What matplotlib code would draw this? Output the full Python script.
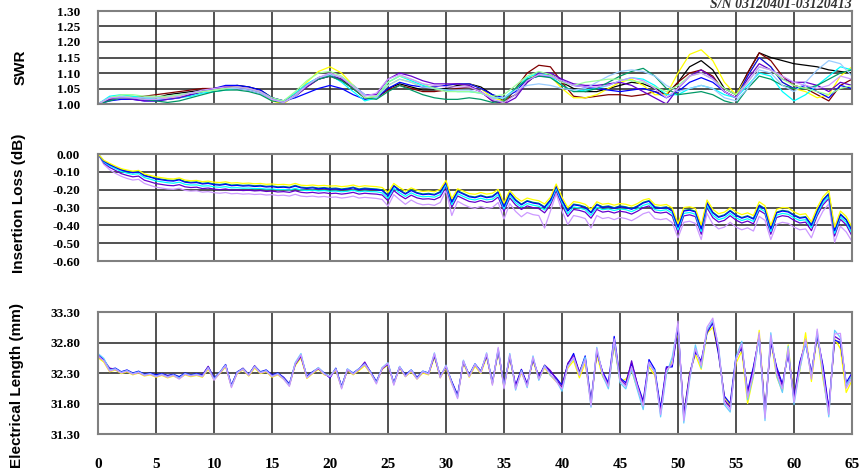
import numpy as np
import matplotlib
matplotlib.use("Agg")
import matplotlib.pyplot as plt
from matplotlib.ticker import FuncFormatter

# frequency grids (GHz)
f_swr = np.arange(0, 66, 1.0)
f_half = np.arange(0, 65.5, 0.5)

# ---------------- SWR, one list per unit ----------------
swr_black = [1.00, 1.02, 1.02, 1.02, 1.02, 1.02, 1.03, 1.035, 1.04, 1.045, 1.05,
             1.055, 1.06, 1.055, 1.045, 1.02, 1.01, 1.03, 1.06, 1.085, 1.095, 1.08,
             1.05, 1.02, 1.02, 1.05, 1.065, 1.055, 1.045, 1.045, 1.05, 1.06, 1.065,
             1.055, 1.03, 1.01, 1.03, 1.07, 1.10, 1.095, 1.07, 1.05, 1.04, 1.04,
             1.05, 1.06, 1.07, 1.065, 1.05, 1.03, 1.07, 1.12, 1.14, 1.11, 1.05,
             1.03, 1.10, 1.165, 1.15, 1.14, 1.13, 1.125, 1.12, 1.11, 1.105, 1.10]
swr_maroon = [1.00, 1.015, 1.02, 1.02, 1.025, 1.03, 1.035, 1.04, 1.045, 1.05, 1.05,
              1.055, 1.055, 1.05, 1.04, 1.015, 1.005, 1.025, 1.055, 1.08, 1.09, 1.075,
              1.05, 1.02, 1.02, 1.045, 1.06, 1.05, 1.04, 1.04, 1.045, 1.05, 1.055,
              1.04, 1.01, 1.00, 1.05, 1.10, 1.125, 1.12, 1.07, 1.025, 1.02, 1.025,
              1.03, 1.03, 1.025, 1.03, 1.04, 1.03, 1.07, 1.10, 1.11, 1.09, 1.04,
              1.02, 1.10, 1.165, 1.14, 1.09, 1.06, 1.05, 1.03, 1.01, 1.06, 1.08]
swr_yellow = [1.00, 1.02, 1.025, 1.025, 1.02, 1.02, 1.02, 1.025, 1.03, 1.04, 1.045,
              1.05, 1.05, 1.045, 1.035, 1.01, 1.00, 1.03, 1.07, 1.105, 1.12, 1.10,
              1.06, 1.02, 1.02, 1.06, 1.08, 1.07, 1.055, 1.055, 1.06, 1.065, 1.065,
              1.05, 1.02, 1.01, 1.05, 1.08, 1.10, 1.09, 1.05, 1.02, 1.02, 1.03,
              1.05, 1.07, 1.08, 1.06, 1.03, 1.03, 1.10, 1.16, 1.175, 1.14, 1.07,
              1.03, 1.09, 1.15, 1.12, 1.07, 1.05, 1.04, 1.02, 1.03, 1.09, 1.12]
swr_blue = [1.00, 1.01, 1.015, 1.015, 1.01, 1.01, 1.015, 1.02, 1.03, 1.04, 1.05,
            1.06, 1.06, 1.055, 1.045, 1.02, 1.01, 1.02, 1.035, 1.05, 1.06, 1.05,
            1.03, 1.015, 1.02, 1.05, 1.07, 1.06, 1.055, 1.055, 1.06, 1.065, 1.065,
            1.05, 1.03, 1.02, 1.04, 1.08, 1.09, 1.09, 1.075, 1.06, 1.055, 1.05,
            1.045, 1.04, 1.045, 1.05, 1.04, 1.02, 1.04, 1.07, 1.085, 1.07, 1.04,
            1.02, 1.09, 1.15, 1.12, 1.07, 1.05, 1.06, 1.04, 1.02, 1.06, 1.05]
swr_cyan = [1.00, 1.025, 1.03, 1.025, 1.02, 1.015, 1.015, 1.02, 1.025, 1.035, 1.04,
            1.045, 1.05, 1.045, 1.035, 1.015, 1.01, 1.035, 1.065, 1.085, 1.095, 1.07,
            1.04, 1.01, 1.02, 1.07, 1.09, 1.075, 1.06, 1.05, 1.045, 1.04, 1.04,
            1.035, 1.02, 1.02, 1.05, 1.085, 1.10, 1.09, 1.06, 1.04, 1.045, 1.05,
            1.06, 1.075, 1.085, 1.08, 1.06, 1.03, 1.03, 1.05, 1.06, 1.05, 1.03,
            1.02, 1.06, 1.10, 1.09, 1.04, 1.01, 1.03, 1.06, 1.09, 1.12, 1.11]
swr_purple = [1.00, 1.015, 1.02, 1.015, 1.01, 1.01, 1.015, 1.02, 1.03, 1.04, 1.05,
              1.055, 1.05, 1.045, 1.035, 1.015, 1.005, 1.025, 1.055, 1.08, 1.09, 1.08,
              1.06, 1.03, 1.03, 1.08, 1.10, 1.09, 1.075, 1.065, 1.065, 1.065, 1.06,
              1.04, 1.01, 1.00, 1.02, 1.07, 1.10, 1.10, 1.08, 1.065, 1.06, 1.06,
              1.065, 1.07, 1.06, 1.04, 1.02, 1.00, 1.05, 1.09, 1.11, 1.085, 1.04,
              1.02, 1.08, 1.13, 1.11, 1.08, 1.07, 1.07, 1.06, 1.04, 1.07, 1.06]
swr_teal = [1.00, 1.01, 1.02, 1.02, 1.015, 1.01, 1.005, 1.01, 1.02, 1.03, 1.04,
            1.045, 1.045, 1.04, 1.03, 1.01, 1.005, 1.03, 1.06, 1.08, 1.09, 1.075,
            1.05, 1.02, 1.015, 1.04, 1.06, 1.045, 1.03, 1.02, 1.015, 1.015, 1.02,
            1.015, 1.005, 1.01, 1.05, 1.08, 1.09, 1.085, 1.06, 1.04, 1.04, 1.05,
            1.07, 1.09, 1.105, 1.115, 1.09, 1.05, 1.03, 1.035, 1.04, 1.03, 1.01,
            1.00, 1.05, 1.09, 1.08, 1.06, 1.05, 1.05, 1.06, 1.08, 1.10, 1.11]
swr_lblue = [1.00, 1.02, 1.025, 1.02, 1.02, 1.02, 1.025, 1.03, 1.035, 1.04, 1.045,
             1.05, 1.05, 1.045, 1.035, 1.015, 1.005, 1.025, 1.06, 1.085, 1.095, 1.085,
             1.06, 1.03, 1.02, 1.06, 1.08, 1.07, 1.055, 1.05, 1.045, 1.045, 1.045,
             1.035, 1.02, 1.02, 1.045, 1.06, 1.065, 1.06, 1.05, 1.045, 1.05, 1.07,
             1.09, 1.105, 1.11, 1.105, 1.09, 1.06, 1.04, 1.05, 1.06, 1.05, 1.02,
             1.01, 1.05, 1.11, 1.10, 1.06, 1.04, 1.07, 1.11, 1.14, 1.13, 1.09]
swr_lgreen = [1.00, 1.02, 1.03, 1.03, 1.025, 1.025, 1.025, 1.03, 1.035, 1.04, 1.045,
              1.05, 1.055, 1.05, 1.04, 1.02, 1.01, 1.04, 1.075, 1.10, 1.105, 1.09,
              1.06, 1.02, 1.025, 1.07, 1.09, 1.08, 1.065, 1.05, 1.04, 1.04, 1.04,
              1.035, 1.025, 1.03, 1.06, 1.09, 1.105, 1.095, 1.07, 1.06, 1.07, 1.075,
              1.08, 1.08, 1.075, 1.07, 1.055, 1.04, 1.06, 1.09, 1.10, 1.08, 1.05,
              1.03, 1.07, 1.12, 1.11, 1.08, 1.06, 1.05, 1.04, 1.03, 1.05, 1.06]
swr_lav = [1.00, 1.02, 1.02, 1.02, 1.015, 1.015, 1.02, 1.025, 1.035, 1.045, 1.05,
           1.055, 1.055, 1.05, 1.04, 1.015, 1.005, 1.03, 1.06, 1.085, 1.10, 1.085,
           1.055, 1.025, 1.035, 1.08, 1.095, 1.08, 1.065, 1.06, 1.055, 1.055, 1.055,
           1.04, 1.015, 1.005, 1.03, 1.075, 1.095, 1.09, 1.075, 1.06, 1.055, 1.055,
           1.06, 1.075, 1.085, 1.075, 1.05, 1.02, 1.05, 1.09, 1.10, 1.08, 1.04,
           1.02, 1.07, 1.12, 1.11, 1.09, 1.07, 1.06, 1.05, 1.06, 1.09, 1.08]

# ---------------- Insertion loss (dB), 0.5 GHz steps ----------------
il_yellow = [0.000, -0.035, -0.052, -0.068, -0.082, -0.090, -0.096, -0.092, -0.112, -0.120,
             -0.128, -0.133, -0.138, -0.140, -0.134, -0.146, -0.150, -0.148, -0.155, -0.152,
             -0.158, -0.160, -0.156, -0.163, -0.161, -0.165, -0.163, -0.167, -0.165, -0.170,
             -0.168, -0.172, -0.170, -0.174, -0.165, -0.175, -0.177, -0.174, -0.178, -0.176,
             -0.180, -0.178, -0.183, -0.180, -0.174, -0.183, -0.178, -0.181, -0.183, -0.188,
             -0.215, -0.165, -0.188, -0.208, -0.190, -0.203, -0.210, -0.207, -0.212, -0.198,
             -0.148, -0.250, -0.195, -0.208, -0.222, -0.226, -0.216, -0.225, -0.220, -0.198,
             -0.275, -0.205, -0.242, -0.265, -0.247, -0.256, -0.262, -0.280, -0.243, -0.168,
             -0.243, -0.300, -0.267, -0.272, -0.282, -0.310, -0.268, -0.282, -0.277, -0.287,
             -0.278, -0.282, -0.292, -0.278, -0.258, -0.250, -0.283, -0.288, -0.283, -0.302,
             -0.390, -0.300, -0.296, -0.305, -0.398, -0.258, -0.310, -0.335, -0.326, -0.302,
             -0.325, -0.340, -0.330, -0.345, -0.268, -0.290, -0.400, -0.310, -0.300, -0.302,
             -0.325, -0.340, -0.335, -0.380, -0.300, -0.240, -0.205, -0.410, -0.320, -0.350,
             -0.410]
il_teal = [0.000, -0.038, -0.057, -0.072, -0.087, -0.095, -0.102, -0.097, -0.118, -0.127,
           -0.136, -0.141, -0.146, -0.148, -0.141, -0.154, -0.158, -0.156, -0.164, -0.161,
           -0.168, -0.171, -0.166, -0.174, -0.172, -0.176, -0.174, -0.178, -0.176, -0.181,
           -0.179, -0.184, -0.182, -0.186, -0.176, -0.186, -0.189, -0.186, -0.191, -0.188,
           -0.193, -0.191, -0.196, -0.192, -0.186, -0.196, -0.191, -0.194, -0.196, -0.201,
           -0.230, -0.176, -0.201, -0.221, -0.201, -0.216, -0.224, -0.221, -0.226, -0.211,
           -0.156, -0.266, -0.206, -0.221, -0.236, -0.241, -0.231, -0.241, -0.236, -0.211,
           -0.290, -0.216, -0.256, -0.281, -0.261, -0.271, -0.276, -0.296, -0.256, -0.176,
           -0.256, -0.316, -0.281, -0.286, -0.296, -0.326, -0.281, -0.296, -0.291, -0.301,
           -0.291, -0.296, -0.306, -0.291, -0.271, -0.261, -0.296, -0.301, -0.296, -0.316,
           -0.405, -0.316, -0.311, -0.321, -0.415, -0.271, -0.326, -0.351, -0.341, -0.316,
           -0.341, -0.356, -0.346, -0.361, -0.286, -0.306, -0.415, -0.326, -0.316, -0.321,
           -0.341, -0.356, -0.351, -0.395, -0.316, -0.256, -0.221, -0.425, -0.336, -0.366,
           -0.425]
il_blue = [0.000, -0.040, -0.060, -0.075, -0.090, -0.098, -0.105, -0.100, -0.122, -0.130,
           -0.140, -0.145, -0.150, -0.152, -0.145, -0.158, -0.162, -0.160, -0.168, -0.165,
           -0.172, -0.175, -0.170, -0.178, -0.176, -0.180, -0.178, -0.182, -0.180, -0.185,
           -0.183, -0.188, -0.186, -0.190, -0.180, -0.190, -0.193, -0.190, -0.195, -0.192,
           -0.197, -0.195, -0.200, -0.196, -0.190, -0.200, -0.195, -0.198, -0.200, -0.205,
           -0.235, -0.180, -0.205, -0.225, -0.205, -0.220, -0.228, -0.225, -0.230, -0.215,
           -0.160, -0.270, -0.210, -0.225, -0.240, -0.245, -0.235, -0.245, -0.240, -0.215,
           -0.295, -0.220, -0.260, -0.285, -0.265, -0.275, -0.280, -0.300, -0.260, -0.180,
           -0.260, -0.320, -0.285, -0.290, -0.300, -0.330, -0.285, -0.300, -0.295, -0.305,
           -0.295, -0.300, -0.310, -0.295, -0.275, -0.265, -0.300, -0.305, -0.300, -0.320,
           -0.410, -0.320, -0.315, -0.325, -0.420, -0.275, -0.330, -0.355, -0.345, -0.320,
           -0.345, -0.360, -0.350, -0.365, -0.290, -0.310, -0.420, -0.330, -0.320, -0.325,
           -0.345, -0.360, -0.355, -0.400, -0.320, -0.260, -0.225, -0.430, -0.340, -0.370,
           -0.430]
il_cyan = [0.000, -0.045, -0.066, -0.082, -0.098, -0.107, -0.114, -0.110, -0.132, -0.141,
           -0.151, -0.156, -0.161, -0.164, -0.158, -0.170, -0.174, -0.173, -0.180, -0.178,
           -0.184, -0.187, -0.183, -0.190, -0.189, -0.192, -0.191, -0.194, -0.193, -0.197,
           -0.196, -0.200, -0.199, -0.202, -0.193, -0.202, -0.205, -0.203, -0.207, -0.205,
           -0.209, -0.208, -0.212, -0.209, -0.203, -0.212, -0.208, -0.211, -0.212, -0.218,
           -0.248, -0.192, -0.218, -0.238, -0.218, -0.233, -0.240, -0.238, -0.242, -0.228,
           -0.172, -0.284, -0.222, -0.238, -0.252, -0.258, -0.248, -0.257, -0.253, -0.228,
           -0.308, -0.232, -0.273, -0.297, -0.278, -0.287, -0.293, -0.314, -0.272, -0.192,
           -0.273, -0.335, -0.297, -0.303, -0.312, -0.344, -0.298, -0.312, -0.308, -0.317,
           -0.308, -0.312, -0.323, -0.308, -0.288, -0.278, -0.312, -0.318, -0.312, -0.333,
           -0.425, -0.333, -0.328, -0.338, -0.435, -0.288, -0.343, -0.368, -0.358, -0.333,
           -0.358, -0.373, -0.363, -0.378, -0.303, -0.323, -0.435, -0.343, -0.333, -0.338,
           -0.358, -0.373, -0.368, -0.413, -0.333, -0.273, -0.238, -0.445, -0.353, -0.383,
           -0.445]
il_purple = [0.000, -0.050, -0.075, -0.092, -0.110, -0.120, -0.128, -0.124, -0.147, -0.156,
             -0.166, -0.171, -0.176, -0.178, -0.172, -0.184, -0.188, -0.186, -0.194, -0.191,
             -0.197, -0.200, -0.196, -0.203, -0.201, -0.205, -0.203, -0.207, -0.205, -0.210,
             -0.208, -0.213, -0.211, -0.215, -0.206, -0.215, -0.218, -0.215, -0.220, -0.217,
             -0.222, -0.220, -0.225, -0.221, -0.215, -0.225, -0.220, -0.223, -0.225, -0.230,
             -0.262, -0.205, -0.231, -0.251, -0.231, -0.246, -0.253, -0.251, -0.256, -0.241,
             -0.185, -0.298, -0.235, -0.251, -0.266, -0.271, -0.261, -0.271, -0.266, -0.241,
             -0.322, -0.246, -0.286, -0.311, -0.291, -0.301, -0.306, -0.330, -0.286, -0.206,
             -0.287, -0.350, -0.311, -0.316, -0.326, -0.360, -0.311, -0.326, -0.321, -0.331,
             -0.321, -0.326, -0.337, -0.321, -0.301, -0.291, -0.326, -0.331, -0.326, -0.347,
             -0.440, -0.347, -0.341, -0.351, -0.450, -0.301, -0.357, -0.382, -0.372, -0.346,
             -0.371, -0.387, -0.376, -0.392, -0.316, -0.336, -0.450, -0.356, -0.346, -0.351,
             -0.372, -0.387, -0.382, -0.430, -0.346, -0.285, -0.250, -0.460, -0.366, -0.397,
             -0.460]
il_lav = [0.000, -0.058, -0.088, -0.108, -0.125, -0.137, -0.146, -0.142, -0.165, -0.176,
          -0.186, -0.191, -0.196, -0.198, -0.192, -0.204, -0.208, -0.206, -0.214, -0.211,
          -0.217, -0.220, -0.216, -0.223, -0.221, -0.225, -0.223, -0.227, -0.225, -0.230,
          -0.228, -0.233, -0.231, -0.236, -0.226, -0.236, -0.239, -0.236, -0.241, -0.238,
          -0.243, -0.241, -0.247, -0.243, -0.236, -0.247, -0.243, -0.246, -0.249, -0.255,
          -0.292, -0.228, -0.256, -0.282, -0.258, -0.276, -0.285, -0.282, -0.288, -0.272,
          -0.205, -0.345, -0.265, -0.283, -0.298, -0.305, -0.294, -0.305, -0.300, -0.272,
          -0.365, -0.278, -0.322, -0.352, -0.328, -0.340, -0.345, -0.415, -0.320, -0.225,
          -0.320, -0.395, -0.345, -0.352, -0.362, -0.415, -0.345, -0.362, -0.356, -0.368,
          -0.356, -0.362, -0.374, -0.356, -0.335, -0.325, -0.362, -0.368, -0.362, -0.385,
          -0.470, -0.383, -0.377, -0.389, -0.480, -0.333, -0.393, -0.420, -0.410, -0.383,
          -0.410, -0.425, -0.414, -0.432, -0.350, -0.372, -0.480, -0.394, -0.383, -0.389,
          -0.410, -0.425, -0.420, -0.470, -0.383, -0.320, -0.280, -0.495, -0.405, -0.437,
          -0.490]

# ---------------- Electrical length (mm), 0.5 GHz steps ----------------
el_yellow = [32.55, 32.48, 32.32, 32.35, 32.29, 32.32, 32.27, 32.30, 32.25, 32.27,
             32.23, 32.26, 32.22, 32.25, 32.21, 32.27, 32.24, 32.26, 32.23, 32.36,
             32.19, 32.29, 32.40, 32.08, 32.29, 32.35, 32.25, 32.38, 32.29, 32.32,
             32.23, 32.27, 32.20, 32.10, 32.42, 32.55, 32.21, 32.29, 32.36, 32.27,
             32.25, 32.34, 32.06, 32.34, 32.27, 32.34, 32.42, 32.29, 32.14, 32.36,
             32.43, 32.12, 32.38, 32.24, 32.32, 32.20, 32.30, 32.27, 32.56, 32.22,
             32.38, 32.12, 31.92, 32.46, 32.23, 32.41, 32.29, 32.56, 32.12, 32.64,
             32.06, 32.54, 32.06, 32.30, 32.10, 32.50, 32.20, 32.38, 32.26, 32.16,
             32.08, 32.38, 32.50, 32.22, 32.46, 31.82, 32.60, 32.24, 32.10, 32.76,
             32.16, 32.20, 32.34, 32.04, 31.84, 32.40, 32.26, 31.70, 32.30, 32.50,
             33.00, 31.60, 32.30, 32.60, 32.36, 32.95, 33.05, 32.62, 31.90, 31.78,
             32.46, 32.66, 31.80, 32.24, 33.00, 31.64, 32.84, 32.24, 32.00, 32.76,
             31.88, 32.34, 32.96, 32.16, 32.92, 32.20, 31.66, 32.86, 32.70, 31.98,
             32.18]
el_blue = [32.60, 32.52, 32.36, 32.38, 32.32, 32.35, 32.30, 32.33, 32.28, 32.30,
           32.27, 32.29, 32.26, 32.28, 32.24, 32.30, 32.27, 32.29, 32.27, 32.40,
           32.22, 32.31, 32.44, 32.10, 32.32, 32.37, 32.28, 32.41, 32.32, 32.35,
           32.27, 32.30, 32.23, 32.12, 32.44, 32.58, 32.25, 32.32, 32.38, 32.30,
           32.22, 32.38, 32.08, 32.36, 32.30, 32.37, 32.45, 32.32, 32.16, 32.38,
           32.44, 32.14, 32.40, 32.27, 32.35, 32.23, 32.33, 32.30, 32.58, 32.25,
           32.40, 32.16, 31.94, 32.48, 32.27, 32.45, 32.33, 32.58, 32.15, 32.66,
           32.10, 32.56, 32.10, 32.36, 32.12, 32.52, 32.24, 32.42, 32.32, 32.22,
           32.10, 32.44, 32.62, 32.30, 32.58, 31.84, 32.64, 32.32, 32.14, 32.90,
           32.22, 32.14, 32.46, 32.12, 31.84, 32.52, 32.36, 31.72, 32.40, 32.40,
           33.05, 31.62, 32.28, 32.64, 32.50, 32.96, 33.12, 32.60, 31.92, 31.80,
           32.58, 32.70, 32.00, 32.40, 32.88, 31.68, 32.80, 32.40, 32.12, 32.62,
           31.90, 32.48, 32.78, 32.30, 32.90, 32.42, 31.72, 32.84, 32.80, 32.14,
           32.30]
el_purple = [32.57, 32.51, 32.38, 32.36, 32.31, 32.34, 32.29, 32.31, 32.27, 32.29,
             32.25, 32.28, 32.25, 32.27, 32.22, 32.29, 32.26, 32.28, 32.26, 32.41,
             32.21, 32.30, 32.43, 32.09, 32.31, 32.38, 32.27, 32.42, 32.31, 32.34,
             32.26, 32.29, 32.22, 32.11, 32.45, 32.57, 32.24, 32.31, 32.37, 32.29,
             32.23, 32.37, 32.07, 32.35, 32.29, 32.36, 32.48, 32.31, 32.15, 32.37,
             32.45, 32.13, 32.39, 32.26, 32.34, 32.22, 32.32, 32.29, 32.60, 32.24,
             32.41, 32.15, 31.92, 32.49, 32.26, 32.44, 32.32, 32.60, 32.14, 32.68,
             32.08, 32.58, 32.08, 32.35, 32.10, 32.54, 32.22, 32.43, 32.34, 32.20,
             32.06, 32.46, 32.58, 32.32, 32.54, 31.80, 32.66, 32.30, 32.10, 32.80,
             32.20, 32.10, 32.50, 32.10, 31.80, 32.46, 32.32, 31.66, 32.38, 32.44,
             33.08, 31.56, 32.26, 32.68, 32.46, 32.98, 33.14, 32.66, 31.86, 31.74,
             32.54, 32.74, 31.96, 32.36, 32.92, 31.60, 32.86, 32.36, 32.08, 32.66,
             31.86, 32.44, 32.82, 32.28, 32.94, 32.36, 31.68, 32.90, 32.84, 32.10,
             32.28]
el_cyan = [32.62, 32.54, 32.35, 32.37, 32.31, 32.34, 32.29, 32.32, 32.27, 32.29,
           32.25, 32.28, 32.24, 32.27, 32.22, 32.29, 32.26, 32.28, 32.25, 32.39,
           32.20, 32.31, 32.43, 32.08, 32.31, 32.37, 32.27, 32.41, 32.31, 32.34,
           32.25, 32.29, 32.21, 32.10, 32.47, 32.62, 32.23, 32.31, 32.39, 32.29,
           32.25, 32.37, 32.06, 32.37, 32.29, 32.37, 32.45, 32.31, 32.14, 32.39,
           32.47, 32.12, 32.41, 32.25, 32.35, 32.21, 32.33, 32.29, 32.63, 32.23,
           32.43, 32.14, 31.90, 32.51, 32.25, 32.45, 32.31, 32.63, 32.12, 32.70,
           32.06, 32.62, 32.02, 32.34, 32.06, 32.58, 32.18, 32.42, 32.26, 32.18,
           32.00, 32.42, 32.54, 32.28, 32.56, 31.74, 32.72, 32.26, 32.04, 32.82,
           32.14, 32.04, 32.36, 32.02, 31.70, 32.44, 32.34, 31.58, 32.28, 32.56,
           33.10, 31.48, 32.18, 32.76, 32.38, 33.00, 33.16, 32.74, 31.78, 31.66,
           32.56, 32.82, 31.86, 32.26, 32.90, 31.52, 32.96, 32.26, 31.98, 32.74,
           31.78, 32.36, 32.80, 32.24, 32.98, 32.26, 31.58, 33.00, 32.88, 32.10,
           32.26]
el_lav = [32.58, 32.50, 32.33, 32.36, 32.30, 32.33, 32.28, 32.31, 32.26, 32.28,
          32.24, 32.27, 32.23, 32.26, 32.20, 32.28, 32.25, 32.27, 32.24, 32.38,
          32.18, 32.30, 32.42, 32.06, 32.30, 32.36, 32.26, 32.40, 32.30, 32.33,
          32.24, 32.28, 32.20, 32.08, 32.45, 32.60, 32.22, 32.30, 32.38, 32.28,
          32.24, 32.36, 32.04, 32.36, 32.28, 32.36, 32.44, 32.30, 32.12, 32.38,
          32.46, 32.10, 32.40, 32.24, 32.34, 32.20, 32.32, 32.28, 32.62, 32.22,
          32.42, 32.12, 31.88, 32.50, 32.24, 32.44, 32.30, 32.62, 32.10, 32.72,
          32.04, 32.60, 32.04, 32.32, 32.08, 32.56, 32.20, 32.40, 32.28, 32.16,
          32.04, 32.40, 32.56, 32.26, 32.52, 31.76, 32.70, 32.28, 32.08, 32.86,
          32.18, 32.08, 32.40, 32.08, 31.76, 32.48, 32.30, 31.62, 32.34, 32.45,
          33.15, 31.52, 32.22, 32.70, 32.42, 33.05, 33.20, 32.70, 31.82, 31.70,
          32.52, 32.78, 31.90, 32.30, 32.96, 31.56, 32.92, 32.30, 32.04, 32.70,
          31.82, 32.40, 32.86, 32.20, 33.02, 32.30, 31.62, 32.94, 32.95, 32.05,
          32.22]

swr_lines = [(swr_black, '#000000'), (swr_maroon, '#800000'), (swr_yellow, '#FFFF00'),
             (swr_blue, '#0000FF'), (swr_cyan, '#00FFFF'), (swr_purple, '#6600CC'),
             (swr_teal, '#009966'), (swr_lblue, '#99CCFF'), (swr_lgreen, '#99FF99'),
             (swr_lav, '#CC99FF')]
il_lines = [(il_lav, '#CC99FF'), (il_purple, '#6600CC'), (il_cyan, '#00FFFF'),
            (il_teal, '#009966'), (il_blue, '#0000FF'), (il_yellow, '#FFFF00')]
el_lines = [(el_yellow, '#FFFF00'), (el_blue, '#0000FF'), (el_purple, '#6600CC'),
            (el_cyan, '#66CCFF'), (el_lav, '#CC99FF')]

fig = plt.figure(figsize=(8.62, 4.73), dpi=100)
W, H = 862, 473
left, right = 98, 852


def make_ax(top, bottom):
    return fig.add_axes([left / W, 1 - bottom / H, (right - left) / W, (bottom - top) / H])


ax1 = make_ax(11, 104)
ax2 = make_ax(154, 261)
ax3 = make_ax(312, 434)

for data, c in swr_lines:
    ax1.plot(f_swr, data, color=c, lw=0.9)
for data, c in il_lines:
    ax2.plot(f_half, data, color=c, lw=0.9)
for data, c in el_lines:
    ax3.plot(f_half, data, color=c, lw=0.9)

ax1.set_ylim(1.00, 1.30)
ax1.set_yticks(np.arange(1.00, 1.301, 0.05))
ax2.set_ylim(-0.60, 0.00)
ax2.set_yticks(np.arange(-0.60, 0.001, 0.10))
ax3.set_ylim(31.30, 33.30)
ax3.set_yticks([31.30, 31.80, 32.30, 32.80, 33.30])


def two_dec(v, pos):
    if abs(v) < 1e-9:
        v = 0.0
    return '%.2f' % v


for ax in (ax1, ax2, ax3):
    ax.set_xlim(0, 65)
    ax.set_xticks(np.arange(0, 66, 5))
    ax.yaxis.set_major_formatter(FuncFormatter(two_dec))
    ax.grid(True, color='#222222', lw=1.1)
    ax.set_axisbelow(True)
    for s in ax.spines.values():
        s.set_color('#808080')
        s.set_linewidth(1.5)
    ax.tick_params(axis='y', length=0, pad=13, labelsize=9.5)
    ax.tick_params(axis='x', length=0, pad=17, labelsize=11)
    for lab in ax.get_yticklabels() + ax.get_xticklabels():
        lab.set_fontfamily('Liberation Serif')
        lab.set_fontweight('bold')
ax1.tick_params(axis='x', labelbottom=False)
ax2.tick_params(axis='x', labelbottom=False)

lab_font = dict(family='Liberation Sans', weight='bold', size=11, rotation=90,
                ha='center', va='center')
fig.text(21 / W, 1 - 67 / H, 'SWR', **lab_font)
fig.text(19 / W, 1 - 203 / H, 'Insertion Loss (dB)', **lab_font)
fig.text(17 / W, 1 - 385 / H, 'Electrical Length (mm)', **lab_font)

fig.text(852 / W, 1 - 8.5 / H, 'S/N 03120401-03120413', ha='right', va='baseline',
         family='Liberation Serif', style='italic', weight='bold', size=10, color='#333333')

fig.savefig('out.png', dpi=100)
